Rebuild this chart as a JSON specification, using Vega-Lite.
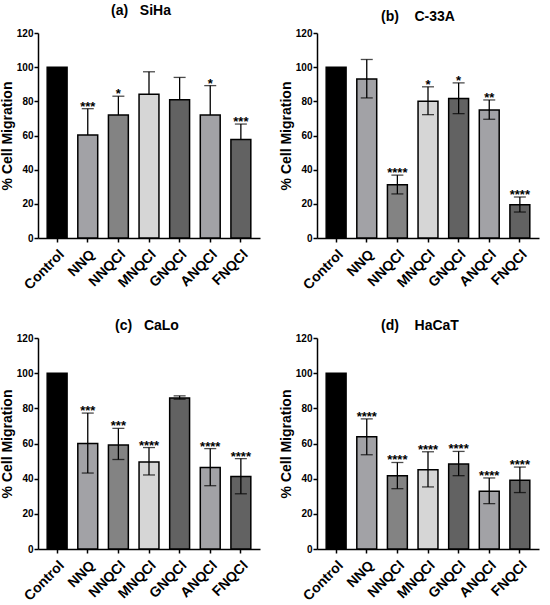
{
  "$schema": "https://vega.github.io/schema/vega-lite/v6.json",
  "padding": {"left": 0, "top": 4, "right": 5, "bottom": 5},
  "bounds": "flush",
  "spacing": 305,
  "config": {
    "font": "Liberation Sans",
    "view": {"stroke": null},
    "axis": {"domainColor": "#000", "domainWidth": 1.5, "tickColor": "#000", "tickWidth": 1.5, "tickSize": 4, "labelColor": "#000", "labelFontWeight": "bold", "titleColor": "#000", "titleFontWeight": "bold", "grid": false, "labelFont": "Liberation Sans", "titleFont": "Liberation Sans"},
    "axisX": {"labelAngle": -45, "labelFontSize": 14, "labelPadding": 5},
    "axisY": {"labelFontSize": 10, "titleFontSize": 14, "titlePadding": 2, "labelPadding": 1, "values": [0, 20, 40, 60, 80, 100, 120]},
    "title": {"font": "Liberation Sans", "fontSize": 14, "fontWeight": "bold", "color": "#000", "frame": "group", "anchor": "middle"},
    "tick": {"color": "#000", "thickness": 1.3},
    "rule": {"color": "#000", "strokeWidth": 1.3}
  },
  "datasets": {
    "a": [
      {"treatment": "Control", "mean": 100},
      {"treatment": "NNQ", "mean": 60.3, "hi": 75.7, "sig": "***"},
      {"treatment": "NNQCl", "mean": 72, "hi": 83, "sig": "*"},
      {"treatment": "MNQCl", "mean": 84.2, "hi": 97.3},
      {"treatment": "GNQCl", "mean": 81, "hi": 94},
      {"treatment": "ANQCl", "mean": 72, "hi": 89.2, "sig": "*"},
      {"treatment": "FNQCl", "mean": 57.6, "hi": 66.7, "sig": "***"}
    ],
    "b": [
      {"treatment": "Control", "mean": 100},
      {"treatment": "NNQ", "mean": 93.1, "lo": 82, "hi": 104.5},
      {"treatment": "NNQCl", "mean": 31.1, "lo": 25.8, "hi": 36.8, "sig": "****"},
      {"treatment": "MNQCl", "mean": 80.1, "lo": 72.2, "hi": 88.5, "sig": "*"},
      {"treatment": "GNQCl", "mean": 81.6, "lo": 72.8, "hi": 90.8, "sig": "*"},
      {"treatment": "ANQCl", "mean": 75, "lo": 69.5, "hi": 80.8, "sig": "**"},
      {"treatment": "FNQCl", "mean": 19.5, "lo": 15.2, "hi": 24, "sig": "****"}
    ],
    "c": [
      {"treatment": "Control", "mean": 100},
      {"treatment": "NNQ", "mean": 60, "lo": 43.2, "hi": 77.3, "sig": "***"},
      {"treatment": "NNQCl", "mean": 59.2, "lo": 50.9, "hi": 68.6, "sig": "***"},
      {"treatment": "MNQCl", "mean": 49.5, "lo": 42.1, "hi": 57.7, "sig": "****"},
      {"treatment": "GNQCl", "mean": 85.9, "lo": 85.2, "hi": 87.1},
      {"treatment": "ANQCl", "mean": 46.3, "lo": 36, "hi": 57.1, "sig": "****"},
      {"treatment": "FNQCl", "mean": 41.3, "lo": 31.4, "hi": 51.4, "sig": "****"}
    ],
    "d": [
      {"treatment": "Control", "mean": 100},
      {"treatment": "NNQ", "mean": 63.8, "lo": 53.6, "hi": 74, "sig": "****"},
      {"treatment": "NNQCl", "mean": 41.7, "lo": 34.3, "hi": 49.2, "sig": "****"},
      {"treatment": "MNQCl", "mean": 45.1, "lo": 35.3, "hi": 55.3, "sig": "****"},
      {"treatment": "GNQCl", "mean": 48.3, "lo": 41.7, "hi": 55.5, "sig": "****"},
      {"treatment": "ANQCl", "mean": 32.8, "lo": 25.8, "hi": 40.4, "sig": "****"},
      {"treatment": "FNQCl", "mean": 39.1, "lo": 32.1, "hi": 46.6, "sig": "****"}
    ]
  },
  "vconcat": [
    {
      "bounds": "flush",
      "spacing": 57,
      "hconcat": [
        {
          "title": {"text": "(a)\u00a0\u00a0\u00a0SiHa", "offset": 10, "dx": -8},
          "width": 222, "height": 205,
          "data": {"name": "a"},
          "encoding": {"x": {"field": "treatment", "type": "nominal", "sort": null, "title": null, "scale": {"paddingInner": 0.35, "paddingOuter": 0.3}}},
          "layer": [
            {"mark": {"type": "bar", "stroke": "#000", "strokeWidth": 1.5},
             "encoding": {"y": {"field": "mean", "type": "quantitative", "title": "% Cell Migration", "scale": {"domain": [0, 120], "nice": false}},
               "color": {"field": "treatment", "type": "nominal", "legend": null, "scale": {"domain": ["Control", "NNQ", "NNQCl", "MNQCl", "GNQCl", "ANQCl", "FNQCl"], "range": ["#000000", "#a2a2a6", "#838383", "#d6d6d6", "#626262", "#a2a2a6", "#626262"]}}}},
            {"transform": [{"filter": "isValid(datum.hi)"}], "mark": {"type": "rule"},
             "encoding": {"y": {"field": "mean", "type": "quantitative", "title": "% Cell Migration"}, "y2": {"field": "hi"}}},
            {"transform": [{"filter": "isValid(datum.hi)"}], "mark": {"type": "tick", "size": 12},
             "encoding": {"y": {"field": "hi", "type": "quantitative", "title": "% Cell Migration"}}},
            {"transform": [{"filter": "isValid(datum.sig)"}], "mark": {"type": "text", "fontSize": 13, "fontWeight": "bold", "baseline": "alphabetic", "dy": 2},
             "encoding": {"y": {"field": "hi", "type": "quantitative", "title": "% Cell Migration"}, "text": {"field": "sig"}}}
          ]
        },
        {
          "title": {"text": "(b)\u00a0\u00a0\u00a0\u00a0C-33A", "offset": 4, "dx": -10},
          "width": 222, "height": 205,
          "data": {"name": "b"},
          "encoding": {"x": {"field": "treatment", "type": "nominal", "sort": null, "title": null, "scale": {"paddingInner": 0.35, "paddingOuter": 0.3}}},
          "layer": [
            {"mark": {"type": "bar", "stroke": "#000", "strokeWidth": 1.5},
             "encoding": {"y": {"field": "mean", "type": "quantitative", "title": "% Cell Migration", "scale": {"domain": [0, 120], "nice": false}},
               "color": {"field": "treatment", "type": "nominal", "legend": null, "scale": {"domain": ["Control", "NNQ", "NNQCl", "MNQCl", "GNQCl", "ANQCl", "FNQCl"], "range": ["#000000", "#a2a2a6", "#838383", "#d6d6d6", "#626262", "#a2a2a6", "#626262"]}}}},
            {"transform": [{"filter": "isValid(datum.hi)"}], "mark": {"type": "rule"},
             "encoding": {"y": {"field": "lo", "type": "quantitative", "title": "% Cell Migration"}, "y2": {"field": "hi"}}},
            {"transform": [{"filter": "isValid(datum.hi)"}], "mark": {"type": "tick", "size": 12},
             "encoding": {"y": {"field": "hi", "type": "quantitative", "title": "% Cell Migration"}}},
            {"transform": [{"filter": "isValid(datum.lo)"}], "mark": {"type": "tick", "size": 12},
             "encoding": {"y": {"field": "lo", "type": "quantitative", "title": "% Cell Migration"}}},
            {"transform": [{"filter": "isValid(datum.sig)"}], "mark": {"type": "text", "fontSize": 13, "fontWeight": "bold", "baseline": "alphabetic", "dy": 2},
             "encoding": {"y": {"field": "hi", "type": "quantitative", "title": "% Cell Migration"}, "text": {"field": "sig"}}}
          ]
        }
      ]
    },
    {
      "bounds": "flush",
      "spacing": 57,
      "hconcat": [
        {
          "title": {"text": "(c)\u00a0\u00a0\u00a0CaLo", "offset": 0, "dx": -2},
          "width": 222, "height": 211,
          "data": {"name": "c"},
          "encoding": {"x": {"field": "treatment", "type": "nominal", "sort": null, "title": null, "scale": {"paddingInner": 0.35, "paddingOuter": 0.3}}},
          "layer": [
            {"mark": {"type": "bar", "stroke": "#000", "strokeWidth": 1.5},
             "encoding": {"y": {"field": "mean", "type": "quantitative", "title": "% Cell Migration", "scale": {"domain": [0, 120], "nice": false}},
               "color": {"field": "treatment", "type": "nominal", "legend": null, "scale": {"domain": ["Control", "NNQ", "NNQCl", "MNQCl", "GNQCl", "ANQCl", "FNQCl"], "range": ["#000000", "#a2a2a6", "#838383", "#d6d6d6", "#626262", "#a2a2a6", "#626262"]}}}},
            {"transform": [{"filter": "isValid(datum.hi)"}], "mark": {"type": "rule"},
             "encoding": {"y": {"field": "lo", "type": "quantitative", "title": "% Cell Migration"}, "y2": {"field": "hi"}}},
            {"transform": [{"filter": "isValid(datum.hi)"}], "mark": {"type": "tick", "size": 12},
             "encoding": {"y": {"field": "hi", "type": "quantitative", "title": "% Cell Migration"}}},
            {"transform": [{"filter": "isValid(datum.lo)"}], "mark": {"type": "tick", "size": 12},
             "encoding": {"y": {"field": "lo", "type": "quantitative", "title": "% Cell Migration"}}},
            {"transform": [{"filter": "isValid(datum.sig)"}], "mark": {"type": "text", "fontSize": 13, "fontWeight": "bold", "baseline": "alphabetic", "dy": 2},
             "encoding": {"y": {"field": "hi", "type": "quantitative", "title": "% Cell Migration"}, "text": {"field": "sig"}}}
          ]
        },
        {
          "title": {"text": "(d)\u00a0\u00a0\u00a0\u00a0HaCaT", "offset": 0, "dx": -8},
          "width": 222, "height": 211,
          "data": {"name": "d"},
          "encoding": {"x": {"field": "treatment", "type": "nominal", "sort": null, "title": null, "scale": {"paddingInner": 0.35, "paddingOuter": 0.3}}},
          "layer": [
            {"mark": {"type": "bar", "stroke": "#000", "strokeWidth": 1.5},
             "encoding": {"y": {"field": "mean", "type": "quantitative", "title": "% Cell Migration", "scale": {"domain": [0, 120], "nice": false}},
               "color": {"field": "treatment", "type": "nominal", "legend": null, "scale": {"domain": ["Control", "NNQ", "NNQCl", "MNQCl", "GNQCl", "ANQCl", "FNQCl"], "range": ["#000000", "#a2a2a6", "#838383", "#d6d6d6", "#626262", "#a2a2a6", "#626262"]}}}},
            {"transform": [{"filter": "isValid(datum.hi)"}], "mark": {"type": "rule"},
             "encoding": {"y": {"field": "lo", "type": "quantitative", "title": "% Cell Migration"}, "y2": {"field": "hi"}}},
            {"transform": [{"filter": "isValid(datum.hi)"}], "mark": {"type": "tick", "size": 12},
             "encoding": {"y": {"field": "hi", "type": "quantitative", "title": "% Cell Migration"}}},
            {"transform": [{"filter": "isValid(datum.lo)"}], "mark": {"type": "tick", "size": 12},
             "encoding": {"y": {"field": "lo", "type": "quantitative", "title": "% Cell Migration"}}},
            {"transform": [{"filter": "isValid(datum.sig)"}], "mark": {"type": "text", "fontSize": 13, "fontWeight": "bold", "baseline": "alphabetic", "dy": 2},
             "encoding": {"y": {"field": "hi", "type": "quantitative", "title": "% Cell Migration"}, "text": {"field": "sig"}}}
          ]
        }
      ]
    }
  ]
}
